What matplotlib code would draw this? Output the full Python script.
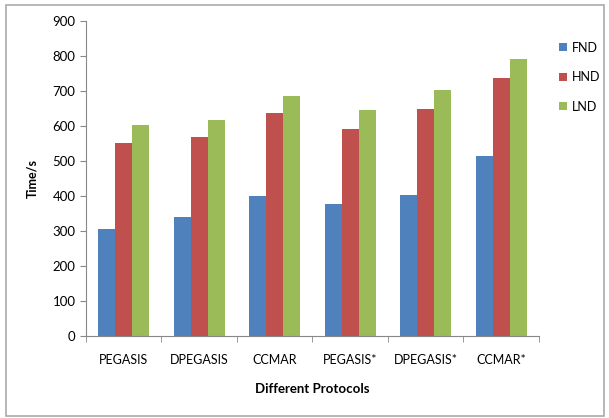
import numpy as np
import matplotlib.pyplot as plt
from matplotlib.patches import Rectangle

protocols = ['PEGASIS', 'DPEGASIS', 'CCMAR', 'PEGASIS*', 'DPEGASIS*', 'CCMAR*']
fnd = [306, 339, 399, 377, 403, 513]
hnd = [551, 568, 636, 590, 649, 738]
lnd = [603, 616, 685, 645, 703, 790]

plt.rcParams['font.family'] = ['Lato', 'DejaVu Sans']

fig = plt.figure(figsize=(6.09, 4.18), dpi=100)
ax = fig.add_axes([0.141, 0.196, 0.744, 0.754])

x = np.arange(len(protocols))
w = 0.225
ax.bar(x - w, fnd, w, color='#4F81BD', label='FND')
ax.bar(x, hnd, w, color='#C0504D', label='HND')
ax.bar(x + w, lnd, w, color='#9BBB59', label='LND')

ax.set_xlim(-0.5, len(protocols) - 0.5)
ax.set_ylim(0, 900)
ax.set_yticks(range(0, 901, 100))
ax.set_xticks(x)
ax.set_xticklabels(protocols, fontsize=9)
ax.set_xticks(np.arange(-0.5, len(protocols)), minor=True)
ax.tick_params(axis='x', which='major', length=0, pad=13)
ax.tick_params(axis='x', which='minor', length=4, color='#888888')
ax.tick_params(axis='y', length=4, color='#888888', labelsize=9.5)
for s in ['top', 'right']:
    ax.spines[s].set_visible(False)
for s in ['left', 'bottom']:
    ax.spines[s].set_color('#888888')

ax.set_ylabel('Time/s', fontsize=9, fontweight='bold', labelpad=10)
ax.set_xlabel('Different Protocols', fontsize=9.5, fontweight='bold', labelpad=12)

ax.legend(loc='upper left', bbox_to_anchor=(1.02, 0.97), frameon=False, fontsize=9,
          handlelength=0.6, handleheight=0.6, labelspacing=1.4, handletextpad=0.4)

fig.patches.append(Rectangle((6 / 609, 2 / 418), 598 / 609, 411 / 418, transform=fig.transFigure,
                             fill=False, edgecolor='#AAAAAA', linewidth=1.2))

fig.savefig('out.png', dpi=100)
